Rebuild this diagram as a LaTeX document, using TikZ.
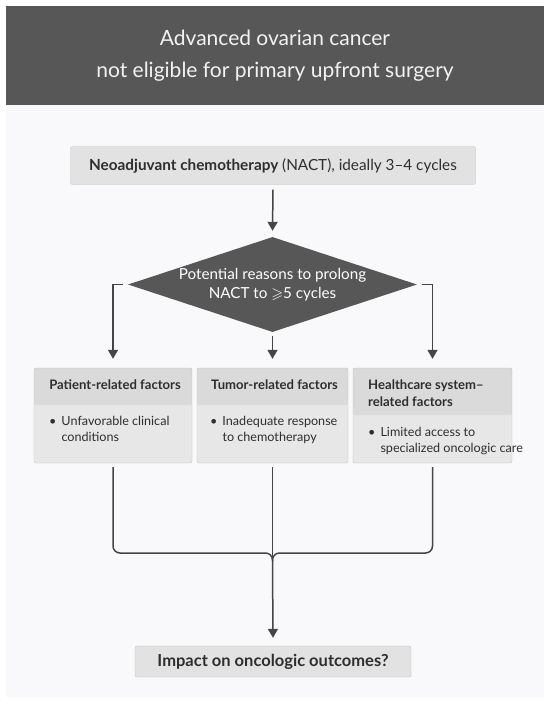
\documentclass[tikz,border=0pt]{standalone}
\usepackage{amssymb}
\usepackage{fontspec}
\setmainfont{Lato}
\usetikzlibrary{shapes.geometric,arrows.meta}

\definecolor{panelbg}{HTML}{F9F8FA}
\definecolor{bandgray}{HTML}{575757}
\definecolor{titlewhite}{HTML}{F2F2F2}
\definecolor{boxgray}{HTML}{E2E2E2}
\definecolor{headgray}{HTML}{DADADA}
\definecolor{bodygray}{HTML}{E7E7E7}
\definecolor{edgegray}{HTML}{C2C2C2}
\definecolor{linkgray}{HTML}{454545}
\definecolor{inkgray}{HTML}{2E2E2E}

\newcommand{\bulletitem}[2]{\textbullet\hspace{5pt}\begin{tabular}[t]{@{}l@{}}#1\\#2\end{tabular}}

\tikzset{
	plainbox/.style={draw=edgegray, fill=boxgray, rounded corners=2pt, inner sep=0pt, text=inkgray},
	factor/.style 2 args={draw=edgegray, fill=bodygray, rounded corners=2pt, inner sep=0pt,
		minimum width=#1, minimum height=95pt,
		path picture={\fill[headgray] (path picture bounding box.north west) rectangle ([yshift=-#2]path picture bounding box.north east);}},
	headtext/.style={text=inkgray, inner sep=0pt, font=\bfseries\fontsize{13.1}{17}\selectfont},
	bodytext/.style={text=inkgray, inner sep=0pt, align=left, font=\fontsize{12.6}{16}\selectfont},
	link/.style={draw=linkgray, line width=1.5pt},
	arrow/.style={link, -{Triangle[length=9pt,width=10pt]}},
}

\begin{document}
\begin{tikzpicture}[x=1pt,y=-1pt]
	\useasboundingbox (0,0) rectangle (550,705);
	\fill[white] (0,0) rectangle (550,705);
	\fill[panelbg] (6,105) rectangle (544,697);
	\fill[bandgray] (6,6) rectangle (544,105);
	\node[text=titlewhite, align=center, font=\fontsize{21}{32}\selectfont] (title) at (275,56)
		{Advanced ovarian cancer\\not eligible for primary upfront surgery};

	\node[plainbox, minimum width=405pt, minimum height=38pt, font=\fontsize{15.3}{17}\selectfont] (nact) at (273,165.5)
		{\textbf{Neoadjuvant chemotherapy} (NACT), ideally 3--4 cycles};

	\node[diamond, fill=bandgray, aspect=3.04, inner sep=0pt, minimum width=289pt, minimum height=95pt,
		text=white, align=center, font=\fontsize{15.2}{18.5}\selectfont] (reason) at (272.5,284.5)
		{Potential reasons to prolong\\NACT to $\geqslant$5 cycles};

	\node[factor={158pt}{37pt}] (patient) at (113,415.5) {};
	\node[factor={151pt}{37pt}] (tumor) at (272.5,415.5) {};
	\node[factor={159pt}{47pt}] (health) at (432.5,415.5) {};

	\node[headtext] (patienthead) at (115,385) {Patient-related factors};
	\node[headtext] (tumorhead) at (274.5,385) {Tumor-related factors};
	\node[headtext, anchor=north west, align=left] (healthhead) at (368,380) {Healthcare system--\\related factors};

	\node[bodytext, anchor=north west] (patientbody) at (49,414.5) {\bulletitem{Unfavorable clinical}{conditions}};
	\node[bodytext, anchor=north west] (tumorbody) at (210,414.5) {\bulletitem{Inadequate response}{to chemotherapy}};
	\node[bodytext, anchor=north west] (healthbody) at (368,425.5) {\bulletitem{Limited access to}{specialized oncologic care}};

	\node[plainbox, minimum width=276pt, minimum height=31pt, font=\bfseries\fontsize{16.5}{17}\selectfont] (outcome) at (273,661.5)
		{Impact on oncologic outcomes?};

	\coordinate (merge) at (272.5,553);
	\coordinate (mergelow) at (272.5,561);

	\draw[arrow] ([yshift=-5pt]nact.south) -- ([yshift=6pt]reason.north);
	\draw[arrow] ([xshift=-5pt]reason.west) -| ([yshift=9pt]patient.north);
	\draw[arrow] ([yshift=-4pt]reason.south) -- ([yshift=9pt]tumor.north);
	\draw[arrow] ([xshift=5pt]reason.east) -| ([yshift=9pt]health.north);

	\draw[link, rounded corners=7pt] ([yshift=-4pt]patient.south) |- (merge) -- (mergelow);
	\draw[link, rounded corners=7pt] ([yshift=-4pt]health.south) |- (merge) -- (mergelow);
	\draw[link] ([yshift=-4pt]tumor.south) -- ([yshift=-7pt]merge);
	\draw[arrow] (mergelow) -- ([yshift=8pt]outcome.north);
\end{tikzpicture}
\end{document}
